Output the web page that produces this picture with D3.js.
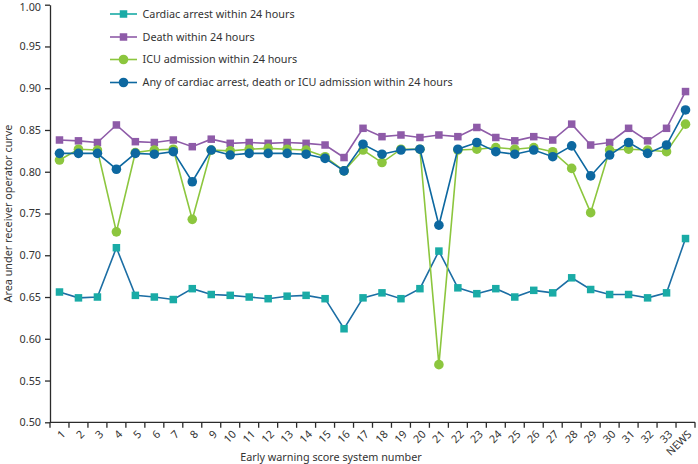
<!DOCTYPE html>
<html>
<head>
<meta charset="utf-8">
<script src="https://cdn.jsdelivr.net/npm/d3@7"></script>
<style>
  html, body { margin: 0; padding: 0; background: #fff; }
  svg { display: block; font-family: "Noto Sans", "Open Sans", sans-serif; }
</style>
</head>
<body>
<svg id="chart" width="698" height="464"></svg>
<script>
const categories = ["1","2","3","4","5","6","7","8","9","10","11","12","13","14","15","16","17","18","19","20","21","22","23","24","25","26","27","28","29","30","31","32","33","NEWS"];

const cardiacArrest = [0.656,0.649,0.650,0.709,0.652,0.650,0.647,0.660,0.653,0.652,0.650,0.648,0.651,0.652,0.648,0.612,0.649,0.655,0.648,0.660,0.705,0.661,0.654,0.660,0.650,0.658,0.655,0.673,0.659,0.653,0.653,0.649,0.655,0.720];
const death = [0.838,0.837,0.835,0.856,0.836,0.835,0.838,0.830,0.839,0.834,0.835,0.834,0.835,0.834,0.832,0.817,0.852,0.842,0.844,0.841,0.844,0.842,0.853,0.841,0.837,0.842,0.838,0.857,0.832,0.835,0.852,0.837,0.852,0.896];
const icuAdmission = [0.814,0.827,0.826,0.728,0.823,0.826,0.827,0.743,0.826,0.825,0.827,0.828,0.827,0.826,0.818,0.801,0.826,0.811,0.827,0.827,0.569,0.826,0.827,0.829,0.827,0.829,0.824,0.804,0.751,0.826,0.827,0.826,0.824,0.857];
const anyOutcome = [0.822,0.822,0.822,0.803,0.822,0.821,0.824,0.788,0.826,0.820,0.822,0.822,0.822,0.821,0.816,0.801,0.833,0.821,0.826,0.827,0.736,0.827,0.835,0.824,0.821,0.826,0.818,0.831,0.795,0.820,0.835,0.822,0.832,0.874];

const yTicks = [0.50,0.55,0.60,0.65,0.70,0.75,0.80,0.85,0.90,0.95,1.00];
const seriesNames = ["Cardiac arrest within 24 hours","Death within 24 hours","ICU admission within 24 hours","Any of cardiac arrest, death or ICU admission within 24 hours"];
const xTitle = "Early warning score system number";
const yTitle = "Area under receiver operator curve";

const series = [
  {name: seriesNames[0], values: cardiacArrest, line: "#1c6ea4", legendLine: "#1aaba6", fill: "#1aaba6", shape: "square", size: 7.5},
  {name: seriesNames[1], values: death, line: "#8e5ba8", legendLine: "#8e5ba8", fill: "#8e5ba8", shape: "square", size: 7.5},
  {name: seriesNames[2], values: icuAdmission, line: "#8cc63e", legendLine: "#8cc63e", fill: "#8cc63e", shape: "circle", size: 4.8},
  {name: seriesNames[3], values: anyOutcome, line: "#0d68a0", legendLine: "#0d68a0", fill: "#0d68a0", shape: "circle", size: 4.8}
];

const svg = d3.select("#chart");
const axisColor = "#2b2b2b";
const textColor = "#333";
const fs = "10.8px";

const x = d3.scaleBand().domain(categories).range([50, 695]).paddingInner(0).paddingOuter(0);
const y = d3.scaleLinear().domain([0.5, 1.0]).range([422.3, 4.7]);
const cx = d => x(d) + x.bandwidth() / 2;

// Y axis
const yAxis = d3.axisLeft(y).tickValues(yTicks).tickFormat(d3.format(".2f")).tickSize(5).tickPadding(4).tickSizeOuter(0);
const gy = svg.append("g").attr("transform", "translate(50,0)").call(yAxis);
gy.select(".domain").attr("stroke", axisColor).attr("stroke-width", 1.3);
gy.selectAll(".tick line").attr("stroke", axisColor).attr("stroke-width", 1.3);
gy.selectAll(".tick text").attr("fill", textColor).style("font-size", fs).style("font-family", "'Noto Sans', sans-serif");
gy.selectAll(".tick text").filter(d => d === 1).attr("dy", "0.5em");

// X axis
const gx = svg.append("g").attr("transform", "translate(0,422.3)");
gx.append("line").attr("x1", 50).attr("x2", x.range()[1]).attr("y1", 0).attr("y2", 0).attr("stroke", axisColor).attr("stroke-width", 1.3);
const boundaries = categories.map(c => x(c)).concat([x.range()[1]]);
gx.selectAll("line.tk").data(boundaries).join("line").attr("class", "tk")
  .attr("x1", d => d).attr("x2", d => d).attr("y1", 0).attr("y2", 5.5)
  .attr("stroke", axisColor).attr("stroke-width", 1.3);
gx.selectAll("text.tl").data(categories).join("text").attr("class", "tl")
  .attr("transform", d => `translate(${cx(d) + 4},${10}) rotate(-45)`)
  .attr("text-anchor", "end").attr("dy", "0.35em")
  .attr("fill", textColor).style("font-size", fs)
  .text(d => d);

// Titles
svg.append("text").attr("x", 331).attr("y", 461).attr("text-anchor", "middle")
  .attr("fill", textColor).style("font-size", fs).text(xTitle);
svg.append("text").attr("transform", `translate(12,${(y(0.5)+y(1))/2}) rotate(-90)`)
  .attr("text-anchor", "middle").attr("fill", textColor).style("font-size", fs).text(yTitle);

// Lines and markers
const lineGen = d3.line().x((d, i) => cx(categories[i])).y(d => y(d));
series.forEach(s => {
  const g = svg.append("g");
  g.append("path").datum(s.values).attr("d", lineGen).attr("fill", "none")
    .attr("stroke", s.line).attr("stroke-width", 1.6);
  if (s.shape === "square") {
    g.selectAll("rect").data(s.values).join("rect")
      .attr("x", (d, i) => cx(categories[i]) - s.size / 2)
      .attr("y", d => y(d) - s.size / 2)
      .attr("width", s.size).attr("height", s.size).attr("fill", s.fill);
  } else {
    g.selectAll("circle").data(s.values).join("circle")
      .attr("cx", (d, i) => cx(categories[i])).attr("cy", d => y(d))
      .attr("r", s.size).attr("fill", s.fill);
  }
});

// Legend
const legendY = [14, 37, 59.5, 82.5];
const lg = svg.append("g");
series.forEach((s, i) => {
  const gy2 = legendY[i];
  lg.append("line").attr("x1", 110).attr("x2", 137).attr("y1", gy2).attr("y2", gy2)
    .attr("stroke", s.legendLine).attr("stroke-width", 1.6);
  if (s.shape === "square") {
    lg.append("rect").attr("x", 123.5 - s.size / 2).attr("y", gy2 - s.size / 2)
      .attr("width", s.size).attr("height", s.size).attr("fill", s.fill);
  } else {
    lg.append("circle").attr("cx", 123.5).attr("cy", gy2).attr("r", s.size).attr("fill", s.fill);
  }
  lg.append("text").attr("x", 142.5).attr("y", gy2).attr("dy", "0.35em")
    .attr("fill", textColor).style("font-size", fs).text(s.name);
});
</script>
</body>
</html>
